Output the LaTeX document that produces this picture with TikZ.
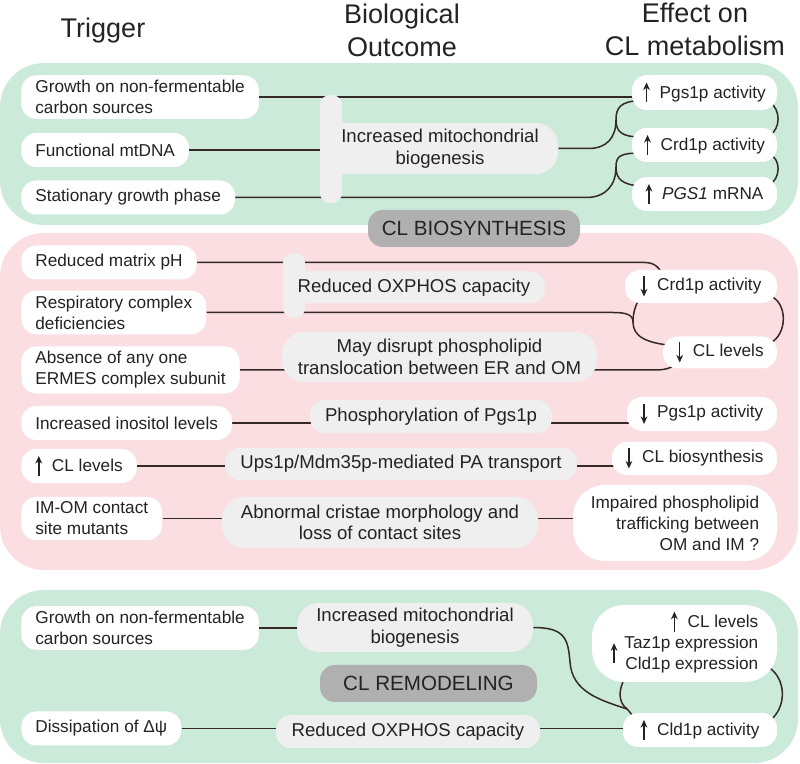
\documentclass[tikz,border=0pt]{standalone}
\usepackage{fontspec}
\setmainfont{Liberation Sans}
\usetikzlibrary{calc, arrows.meta}
\definecolor{mint}{RGB}{203,234,218}
\definecolor{blush}{RGB}{250,222,225}
\definecolor{pale}{RGB}{239,239,239}
\definecolor{slate}{RGB}{176,176,176}
\definecolor{ink}{RGB}{35,35,35}
\definecolor{wirecol}{RGB}{55,40,40}
\newcommand\bodyfont{\fontsize{8.6}{10.5}\selectfont}
\newcommand\midfont{\fontsize{9.3}{10.8}\selectfont}
\newcommand\headfont{\fontsize{13.5}{16.5}\selectfont}
\newcommand\tagfont{\fontsize{10.3}{12}\selectfont}
\newcommand\upa{\tikz[baseline=0pt]\draw[draw=ink, line width=0.75pt, -{Stealth[length=3.8pt,width=3.4pt]}] (0pt,-2pt) -- (0pt,8pt);\kern2.5pt}
\newcommand\downa{\tikz[baseline=0pt]\draw[draw=ink, line width=0.75pt, -{Stealth[length=3.8pt,width=3.4pt]}] (0pt,7pt) -- (0pt,-3pt);\kern2.5pt}
\pgfdeclarelayer{panels}
\pgfdeclarelayer{wires}
\pgfsetlayers{panels,wires,main}
\tikzset{
  trig/.style={fill=white, rounded corners=7.5pt, inner xsep=7pt, inner ysep=2.5pt, minimum height=17pt, align=left, font=\bodyfont, text=ink, anchor=west},
  outc/.style={fill=pale, rounded corners=7.5pt, inner sep=0pt, align=center, font=\midfont, text=ink},
  eff/.style={fill=white, rounded corners=7.5pt, inner sep=0pt, align=center, font=\bodyfont, text=ink},
  stem/.style={fill=pale, rounded corners=5pt, minimum width=11pt, inner sep=0pt},
  stage/.style={fill=slate, rounded corners=7.5pt, inner sep=0pt, minimum height=18.5pt, font=\tagfont, text=ink},
  head/.style={font=\headfont, align=center, text=ink},
  wire/.style={draw=wirecol, line width=0.75pt},
  panel/.style={rounded corners=22pt}
}
\begin{document}
\begin{tikzpicture}[x=0.5pt, y=-0.5pt]
	\useasboundingbox (0,0) rectangle (800,764);
	\begin{pgfonlayer}{panels}
	\fill[mint, panel] (0,63) rectangle (798,225);
	\fill[blush, panel] (0,233) rectangle (798,570);
	\fill[mint, panel] (0,590) rectangle (798,763);
	\end{pgfonlayer}

	\node[head] (hTrig) at (103,31) {Trigger};
	\node[head] (hOut) at (402,30) {Biological\\Outcome};
	\node[head] (hEff) at (695,29) {Effect on\\CL metabolism};

	\node[trig] (trgGrowth) at (21,97) {Growth on non-fermentable\\carbon sources};
	\node[trig] (trgMtdna) at (21,150) {Functional mtDNA};
	\node[trig] (trgStat) at (21,197.5) {Stationary growth phase};
	\node[trig] (trgPH) at (21,262.5) {Reduced matrix pH};
	\node[trig] (trgResp) at (21,312.5) {Respiratory complex\\deficiencies};
	\node[trig] (trgErmes) at (21,370) {Absence of any one\\ERMES complex subunit};
	\node[trig] (trgInos) at (21,423) {Increased inositol levels};
	\node[trig] (trgCL) at (21,466) {\upa\ CL levels};
	\node[trig] (trgIMOM) at (21,518.5) {IM-OM contact\\site mutants};
	\node[trig] (trgGrowthB) at (21,628) {Growth on non-fermentable\\carbon sources};
	\node[trig] (trgDissip) at (21,728.5) {Dissipation of Δψ};

	\node[stem, minimum height=54pt] (stemA) at (331,149) {};
	\node[outc, minimum width=118pt, minimum height=25.5pt, rounded corners=11pt] (outBioA) at (440,148.5) {Increased mitochondrial\\biogenesis};
	\node[stage, minimum width=106pt] (tagBio) at (474,228.5) {CL BIOSYNTHESIS};
	\node[stem, minimum height=32.5pt] (stemB) at (294,285.5) {};
	\node[outc, minimum width=131pt, minimum height=16pt] (outOxA) at (414,287.5) {Reduced OXPHOS capacity};
	\node[outc, minimum width=157.5pt, minimum height=25pt, rounded corners=11pt] (outErmes) at (439.5,357) {May disrupt phospholipid\\translocation between ER and OM};
	\node[outc, minimum width=121pt, minimum height=16.5pt] (outPhos) at (431,416.5) {Phosphorylation of Pgs1p};
	\node[outc, minimum width=176pt, minimum height=16pt] (outUps) at (401,464) {Ups1p/Mdm35p-mediated PA transport};
	\node[outc, minimum width=158pt, minimum height=25.5pt, rounded corners=11pt] (outCristae) at (380,522.5) {Abnormal cristae morphology and\\loss of contact sites};
	\node[outc, minimum width=118pt, minimum height=24.5pt, rounded corners=11pt] (outBioB) at (415,627.5) {Increased mitochondrial\\biogenesis};
	\node[stage, minimum width=108.5pt] (tagRemod) at (428.5,683.5) {CL REMODELING};
	\node[outc, minimum width=132pt, minimum height=16.5pt] (outOxB) at (408,731.5) {Reduced OXPHOS capacity};

	\node[eff, minimum width=72.5pt, minimum height=17.5pt] (effPgs) at (704.5,92.5) {\upa\ Pgs1p activity};
	\node[eff, minimum width=72.5pt, minimum height=17pt] (effCrd) at (704.5,145) {\upa\ Crd1p activity};
	\node[eff, minimum width=72.5pt, minimum height=17pt] (effMrna) at (704.5,194) {\upa\ \textit{PGS1} mRNA};
	\node[eff, minimum width=76pt, minimum height=16.5pt] (effCrdD) at (701,286.5) {\downa\ Crd1p activity};
	\node[eff, minimum width=57pt, minimum height=16pt] (effCLD) at (720,352.5) {\downa\ CL levels};
	\node[eff, minimum width=75pt, minimum height=17pt] (effPgsD) at (702,414) {\downa\ Pgs1p activity};
	\node[eff, minimum width=82.5pt, minimum height=16.5pt] (effBiosyn) at (694.5,458.5) {\downa\ CL biosynthesis};
	\node[eff, minimum width=102pt, minimum height=38pt, rounded corners=16pt, align=right] (effTraffic) at (675,523) {Impaired phospholipid\\trafficking between\\OM and IM ?};
	\node[eff, minimum width=92.5pt, minimum height=38.5pt, rounded corners=16pt] (effBig) at (684.5,643.5) {\begin{tabular}{@{}c@{\hspace{1pt}}r@{}}&\upa\ CL levels\\\raisebox{-5.25pt}[0pt][0pt]{\upa}&Taz1p expression\\&Cld1p expression\end{tabular}};
	\node[eff, minimum width=77pt, minimum height=17pt] (effCld) at (700,730) {\upa\ Cld1p activity};

	\coordinate (jA) at (616,120);
	\coordinate (jB) at (616,167);
	\coordinate (jC) at (633,322);
	\coordinate (jD) at (627,709);

	\begin{pgfonlayer}{wires}
	\draw[wire] (trgGrowth.east) -- ($(effPgs.west |- trgGrowth.east)+(10,0)$);
	\draw[wire] (trgMtdna.east) -- (stemA.center |- trgMtdna.east);
	\draw[wire] (trgStat.east) -- ($(jB |- trgStat.east)+(-30,0)$) .. controls +(20,0) and +(0,18) .. (jB);
	\draw[wire] (outBioA.east) -- ++(30,0) .. controls +(18,0) and +(0,18) .. (jA);
	\draw[wire] ($(effPgs.west)+(10,8)$) .. controls (620,101) and (616,108) .. (jA) .. controls (616,132) and (622,137) .. ($(effCrd.west)+(10,-8)$);
	\draw[wire] ($(effCrd.west)+(10,8)$) .. controls (620,153) and (616,156) .. (jB) .. controls (616,179) and (622,185) .. ($(effMrna.west)+(10,-8)$);
	\draw[wire] ($(effPgs.east)+(-8,9)$) .. controls (781,110) and (781,128) .. ($(effCrd.east)+(-8,-9)$);
	\draw[wire] ($(effCrd.east)+(-8,9)$) .. controls (781,159) and (781,178) .. ($(effMrna.east)+(-8,-9)$);

	\draw[wire] (trgPH.east) -- ($(effCrdD.west |- trgPH.east)+(20,0)$) .. controls +(10,0) and +(-3,-8) .. ($(effCrdD.north west)+(38,6)$);
	\draw[wire] (trgResp.east) -- ($(jC |- trgResp.east)+(-20,0)$) .. controls +(14,0) and +(0,-7) .. (jC);
	\draw[wire] ($(effCrdD.west)+(15,12)$) .. controls (636,304) and (633,312) .. (jC) .. controls (633,336) and (645,343) .. ($(effCLD.west)+(10,-7)$);
	\draw[wire] ($(effCrdD.east)+(-8,9)$) .. controls (788,302) and (788,335) .. ($(effCLD.east)+(-8,-9)$);
	\draw[wire] (trgErmes.east) -- ($(effCLD.west |- trgErmes.east)+(-8,0)$) .. controls +(8,0) and +(-3,5) .. ($(effCLD.south west)+(12,-5)$);
	\draw[wire] (trgInos.east) -- ($(effPgsD.west |- trgInos.east)+(10,0)$);
	\draw[wire] (trgCL.east) -- ($(effBiosyn.west |- trgCL.east)+(10,0)$);
	\draw[wire] (trgIMOM.east) -- ($(effTraffic.west |- trgIMOM.east)+(10,0)$);

	\draw[wire] (trgGrowthB.east) -- ($(outBioB.west |- trgGrowthB.east)+(10,0)$);
	\draw[wire] (outBioB.east) .. controls (566,627.5) and (568,640) .. (570,662) .. controls (572,692) and (600,700) .. (jD);
	\draw[wire] ($(effBig.south west)+(34,-6)$) .. controls (618,690) and (618,702) .. (jD) .. controls (630,712) and (633,716) .. ($(effCld.west)+(14,-8)$);
	\draw[wire] ($(effBig.east)+(-10,23)$) .. controls (787,678) and (787,708) .. ($(effCld.east)+(-8,-9)$);
	\draw[wire] (trgDissip.east) -- ($(effCld.west |- trgDissip.east)+(10,0)$);
	\end{pgfonlayer}
\end{tikzpicture}
\end{document}
